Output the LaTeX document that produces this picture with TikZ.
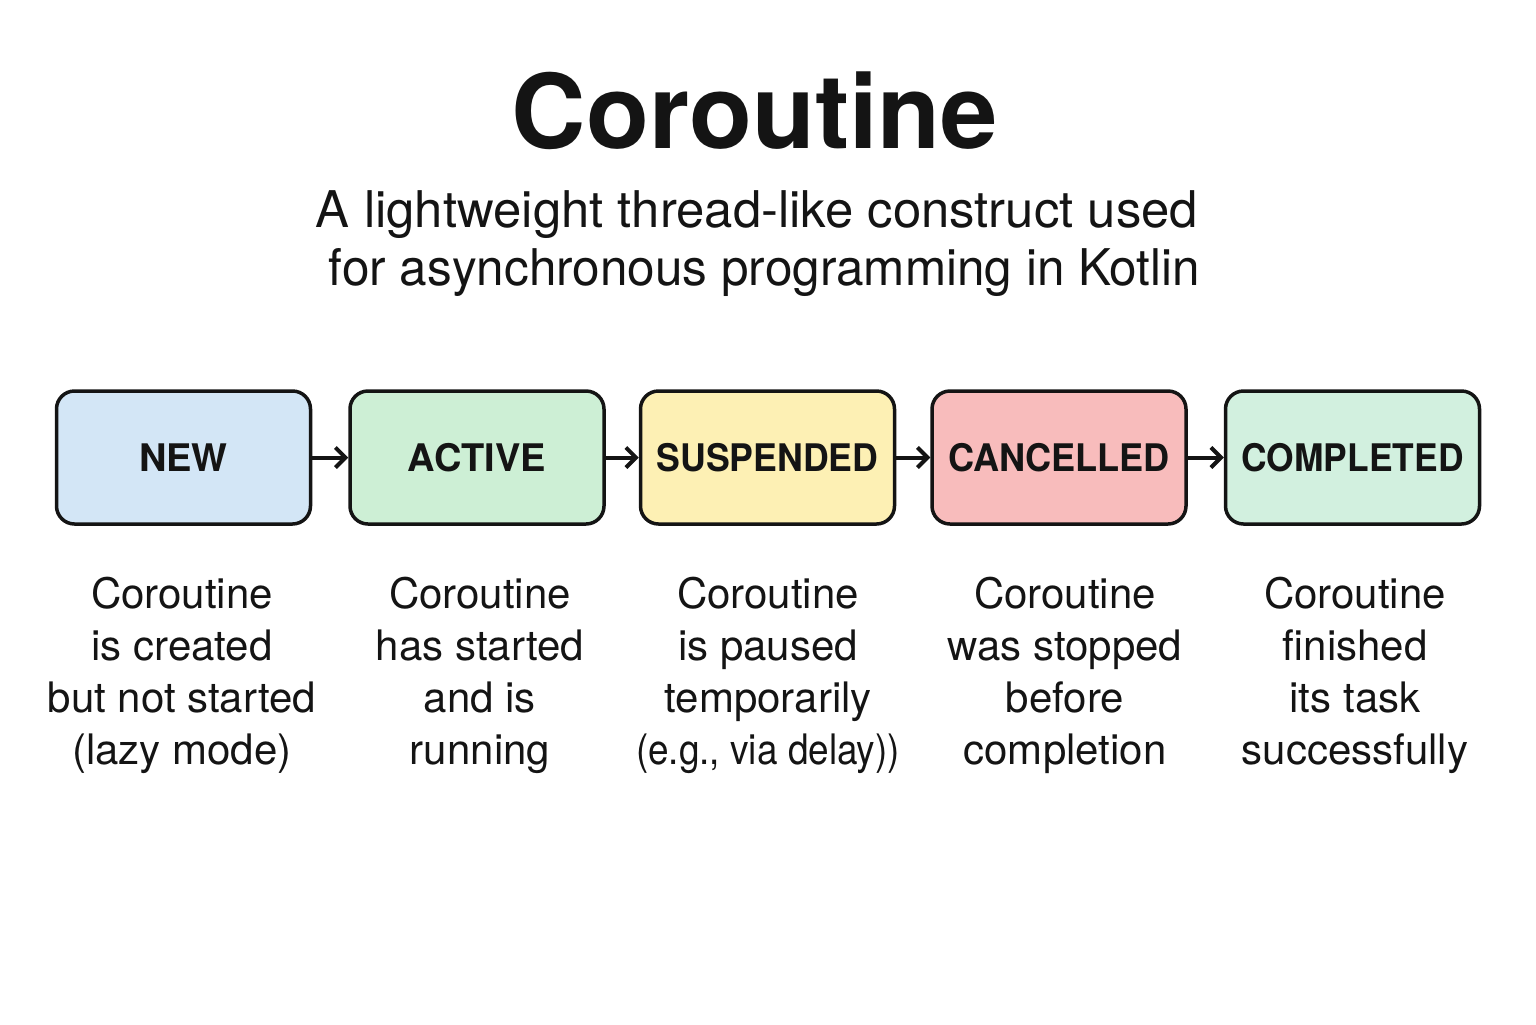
\documentclass[tikz,border=0pt]{standalone}
\usepackage{fontspec}
\setmainfont{TeX Gyre Heros}
\usetikzlibrary{arrows.meta}
\definecolor{ink}{HTML}{141414}
\definecolor{cnew}{RGB}{211,230,246}
\definecolor{cactive}{RGB}{205,239,213}
\definecolor{csusp}{RGB}{253,240,180}
\definecolor{ccanc}{RGB}{248,188,188}
\definecolor{ccomp}{RGB}{210,240,223}
\newcommand{\lbl}[1]{\resizebox{111pt}{\height}{#1}}
\tikzset{
  statebox/.style={draw=ink, line width=1.75pt, rounded corners=9pt,
    minimum width=127pt, minimum height=66.5pt, inner sep=0pt,
    font=\fontsize{19}{22}\selectfont\bfseries, text=ink},
  desc/.style={anchor=north, align=center, inner sep=0pt, text=ink,
    font=\fontsize{21}{26}\selectfont},
  flow/.style={draw=ink, line width=2pt, -{Straight Barb[length=5pt,width=10pt,line width=2pt]}},
}
\begin{document}
\begin{tikzpicture}[x=0.5pt,y=-0.5pt]
\useasboundingbox (0,0) rectangle (1536,1024);
\node[anchor=base, text=ink, font=\fontsize{51.5}{60}\selectfont\bfseries] (title) at (755,148) {Coroutine};
\node[anchor=north, align=center, inner sep=0pt, text=ink, font=\fontsize{25.3}{29}\selectfont] (sub) at (757,190)
  {\resizebox{441pt}{\height}{A lightweight thread-like construct used}\\ \hspace*{7.5pt}\resizebox{435.5pt}{\height}{for asynchronous programming in Kotlin}};

\node[statebox, fill=cnew] (new) at (183.5,457.5) {NEW};
\node[statebox, fill=cactive] (active) at (477,457.5) {ACTIVE};
\node[statebox, fill=csusp] (susp) at (767.5,457.5) {\lbl{SUSPENDED}};
\node[statebox, fill=ccanc] (canc) at (1059,457.5) {\lbl{CANCELLED}};
\node[statebox, fill=ccomp] (comp) at (1352.5,457.5) {\lbl{COMPLETED}};

\draw[flow] (new) -- (active);
\draw[flow] (active) -- (susp);
\draw[flow] (susp) -- (canc);
\draw[flow] (canc) -- (comp);

\node[desc] (d1) at (182,577) {Coroutine\\is created\\but not started\\(lazy mode)};
\node[desc] (d2) at (480,577) {Coroutine\\has started\\and is\\running};
\node[desc] (d3) at (768,577) {Coroutine\\is paused\\temporarily\\\resizebox{132pt}{\height}{(e.g., via delay))}};
\node[desc] (d4) at (1065,577) {Coroutine\\was stopped\\before\\completion};
\node[desc] (d5) at (1355,577) {Coroutine\\finished\\its task\\successfully};
\end{tikzpicture}
\end{document}
